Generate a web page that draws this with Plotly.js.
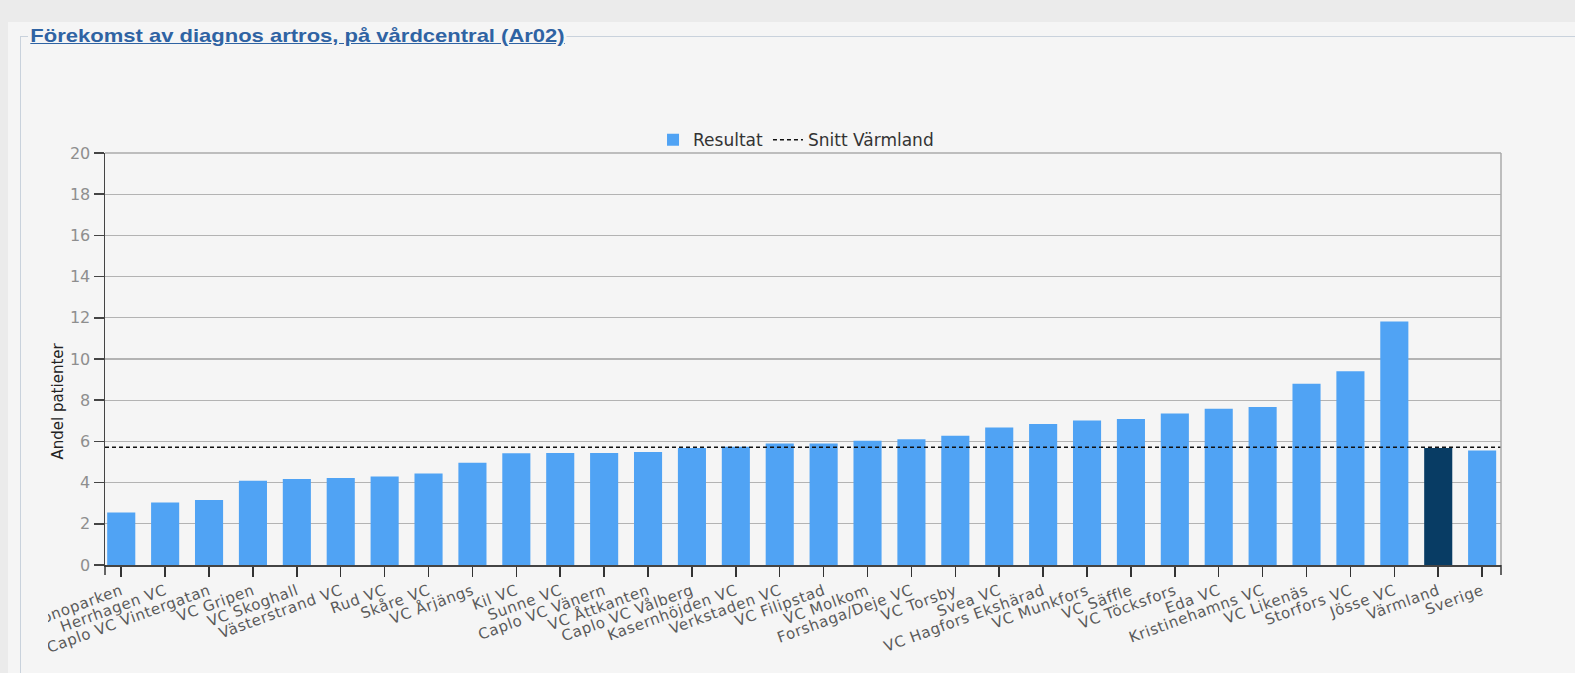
<!DOCTYPE html>
<html>
<head>
<meta charset="utf-8">
<script src="https://cdn.plot.ly/plotly-3.0.1.min.js"></script>
<style>
  html, body { margin:0; padding:0; width:1575px; height:673px; overflow:hidden; background:#ebebeb; font-family:"Liberation Sans", Arial, sans-serif; }
  #panel { position:absolute; left:8px; top:22px; width:1567px; height:651px; background:#f5f5f5; }
  #fs { position:absolute; left:20px; top:36px; width:1560px; height:640px; border-left:1px solid #c9d2dc; border-top:1px solid #c9d2dc; }
  #ttl { position:absolute; left:28px; top:25px; padding:0 2px; background:#f5f5f5; color:#2f63a3; font-size:19px; line-height:22px; font-weight:bold; text-decoration:underline; white-space:nowrap; transform-origin:0 50%; }
  #chart { position:absolute; left:0; top:0; width:1575px; height:673px; clip-path: inset(0 0 0 48px); }
  #chart .xtick text { letter-spacing: 0.6px; }
</style>
</head>
<body>
<div id="panel"></div>
<div id="fs"></div>
<div id="ttl">Förekomst av diagnos artros, på vårdcentral (Ar02)</div>
<div id="chart"></div>
<script>
const categories = ["Kronoparken","Herrhagen VC","Caplo VC Vintergatan","VC Gripen","VC Skoghall","Västerstrand VC","Rud VC","Skåre VC","VC Årjängs","Kil VC","Sunne VC","Caplo VC Vänern","VC Åttkanten","Caplo VC Vålberg","Kasernhöjden VC","Verkstaden VC","VC Filipstad","VC Molkom","Forshaga/Deje VC","VC Torsby","Svea VC","VC Hagfors Ekshärad","VC Munkfors","VC Säffle","VC Töcksfors","Eda VC","Kristinehamns VC","VC Likenäs","Storfors VC","Jösse VC","Värmland","Sverige"];
const resultat = [2.55,3.03,3.16,4.09,4.17,4.22,4.30,4.44,4.96,5.42,5.44,5.44,5.48,5.68,5.74,5.90,5.90,6.03,6.10,6.28,6.68,6.85,7.01,7.09,7.36,7.58,7.67,8.80,9.41,11.82,5.68,5.56];
const snittVarmland = 5.71;
const yTicks = [0,2,4,6,8,10,12,14,16,18,20];

// stretch title to reference width
(function(){
  const t = document.getElementById("ttl");
  const w = t.getBoundingClientRect().width;
  t.style.transform = "scaleX(" + (539 / w) + ")";
})();

const barColors = categories.map(c => c === "Värmland" ? "#083c64" : "#50a3f4");
const FONT = "DejaVu Sans, Verdana, sans-serif";

const traces = [
  {
    type: "bar", name: "Resultat", x: categories, y: resultat,
    marker: { color: barColors, line: { width: 0 } },
    hoverinfo: "x+y"
  },
  {
    type: "scatter", mode: "lines", name: "Snitt Värmland",
    x: [0, 1], y: [snittVarmland, snittVarmland], xaxis: "x2",
    line: { color: "#111", width: 1.5, dash: "4px,3px" }
  }
];

const layout = {
  width: 1575, height: 673,
  margin: { l: 105, r: 74, t: 153, b: 108 },
  paper_bgcolor: "rgba(0,0,0,0)",
  plot_bgcolor: "#f5f5f5",
  font: { family: FONT, color: "#555", size: 14 },
  bargap: 0.36,
  showlegend: true,
  legend: {
    orientation: "h", x: 0.495, xanchor: "center", y: 1.031, yanchor: "middle",
    font: { family: FONT, size: 17, color: "#333" }, bgcolor: "rgba(0,0,0,0)",
    itemwidth: 30, tracegroupgap: 0, traceorder: "normal"
  },
  xaxis: {
    type: "category", range: [-0.37, 31.43], tickangle: -20,
    ticks: "outside", ticklen: 10, tickcolor: "#333", tickwidth: 1.5,
    showline: true, linecolor: "#444", linewidth: 1.5, showgrid: false,
    tickfont: { family: FONT, size: 15, color: "#5a5a5a" }, automargin: false, fixedrange: true
  },
  xaxis2: { overlaying: "x", range: [0, 1], visible: false, fixedrange: true },
  yaxis: {
    range: [0, 20], tickvals: yTicks, ticks: "outside", ticklen: 10, tickcolor: "#444", tickwidth: 1.5,
    showline: true, linecolor: "#444", linewidth: 1.5,
    gridcolor: "#b3b3b3", gridwidth: 1.3, zeroline: false,
    tickfont: { family: FONT, size: 16, color: "#8e8e8e" },
    automargin: false, fixedrange: true
  },
  annotations: [
    { text: "Andel patienter", xref: "paper", yref: "paper", x: -0.034, y: 0.398,
      xanchor: "center", yanchor: "middle", textangle: -90, showarrow: false,
      font: { family: FONT, size: 15, color: "#222" } }
  ],
  shapes: [
    { type: "line", xref: "paper", yref: "paper", x0: 1, x1: 1, y0: 0, y1: 1, line: { color: "#aaa", width: 1.5 } },
    { type: "line", xref: "paper", yref: "paper", x0: 0, x1: 1, y0: 1, y1: 1, line: { color: "#aaa", width: 1.5 } },
    { type: "line", xref: "paper", yref: "paper", x0: 0, x1: 0, y0: 0, y1: -0.024, line: { color: "#333", width: 1.5 } },
    { type: "line", xref: "paper", yref: "paper", x0: 1, x1: 1, y0: 0, y1: -0.024, line: { color: "#333", width: 1.5 } }
  ]
};

Plotly.newPlot("chart", traces, layout, { displayModeBar: false, staticPlot: true });
</script>
</body>
</html>
